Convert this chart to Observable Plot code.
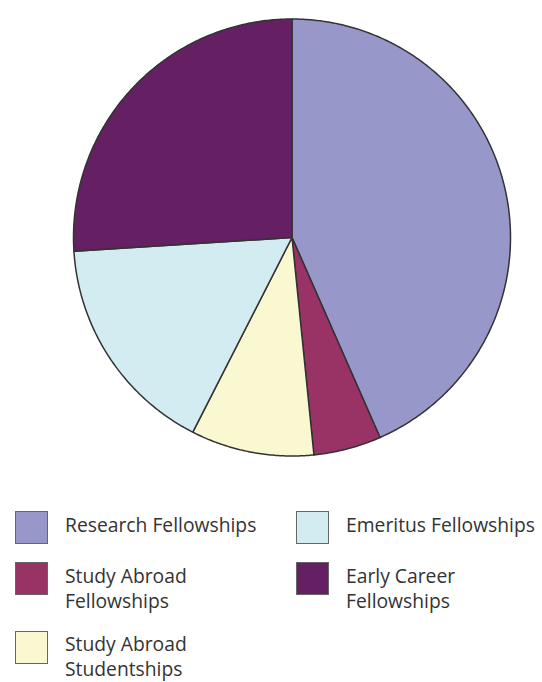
<!DOCTYPE html>
<html>
<head>
<meta charset="utf-8">
<script src="https://cdn.jsdelivr.net/npm/d3@7"></script>
<script src="https://cdn.jsdelivr.net/npm/@observablehq/plot@0.6"></script>
<style>
  html, body { margin: 0; padding: 0; background: #fff; }
  #wrap { position: relative; width: 542px; height: 682px; overflow: hidden; }
  #chart { position: absolute; left: 0; top: 0; }
  #legend {
    position: absolute; left: 15px; top: 509px;
    display: grid; grid-template-columns: 281px 240px;
    grid-template-rows: auto auto auto; grid-auto-flow: column;
    row-gap: 16px;
    font-family: "Open Sans", sans-serif; font-size: 19.3px; color: #333;
  }
  .item { display: flex; align-items: flex-start; }
  .sw { width: 31px; height: 31px; border: 1px solid #666; flex: none; margin-right: 17px; margin-top: 2px; }
  .lab { line-height: 25px; padding-top: 2.5px; white-space: nowrap; }
</style>
</head>
<body>
<div id="wrap">
  <div id="chart"></div>
  <div id="legend"></div>
</div>
<script>
const categories = ["Research Fellowships", "Study Abroad Fellowships", "Study Abroad Studentships", "Emeritus Fellowships", "Early Career Fellowships"];
const labels = [["Research Fellowships"], ["Study Abroad", "Fellowships"], ["Study Abroad", "Studentships"], ["Emeritus Fellowships"], ["Early Career", "Fellowships"]];
const shares = [43.4, 5.0, 9.1, 16.5, 26.0];
const colors = ["#9797ca", "#993366", "#faf8d0", "#d3ecf1", "#642063"];

const R = 218.5;
const pie = d3.pie().sort(null).value(d => d.v)(categories.map((c, i) => ({c, v: shares[i]})));
const pts = [];
for (const s of pie) {
  pts.push({c: s.data.c, x: 0, y: 0});
  const n = Math.max(2, Math.ceil((s.endAngle - s.startAngle) / (Math.PI / 360)));
  for (let k = 0; k <= n; k++) {
    const a = s.startAngle + (s.endAngle - s.startAngle) * k / n;
    pts.push({c: s.data.c, x: R * Math.sin(a), y: R * Math.cos(a)});
  }
}

const plot = Plot.plot({
  width: 542, height: 470,
  margin: 0,
  x: {domain: [-291.5, 250.5], axis: null},
  y: {domain: [-233, 237], axis: null},
  color: {domain: categories, range: colors},
  marks: [
    Plot.line(pts, {x: "x", y: "y", z: "c", fill: "c", stroke: "#333", strokeWidth: 1.5, strokeLinejoin: "round", curve: "linear-closed"})
  ]
});
document.getElementById("chart").appendChild(plot);

const legend = document.getElementById("legend");
categories.forEach((c, i) => {
  const it = document.createElement("div");
  it.className = "item";
  const sw = document.createElement("div");
  sw.className = "sw";
  sw.style.background = colors[i];
  const lab = document.createElement("div");
  lab.className = "lab";
  lab.innerHTML = labels[i].join("<br>");
  it.appendChild(sw); it.appendChild(lab);
  legend.appendChild(it);
});
</script>
</body>
</html>
